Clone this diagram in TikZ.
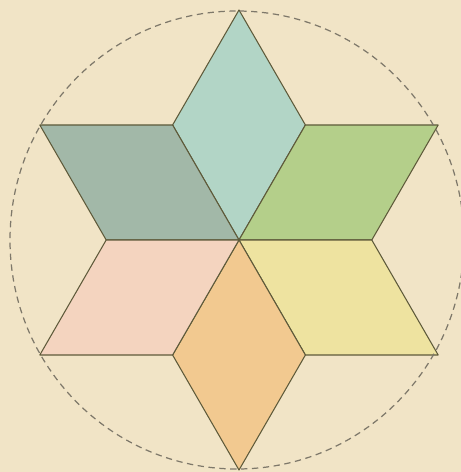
\documentclass[tikz,border=0pt]{standalone}
\usepackage{tikz}

\definecolor{paper}{HTML}{F1E4C6}
\definecolor{edge}{HTML}{5E5A3A}
\definecolor{ring}{HTML}{7E786A}
\definecolor{cAqua}{HTML}{B2D5C6}
\definecolor{cSlate}{HTML}{A2B8A8}
\definecolor{cGreen}{HTML}{B4CF8A}
\definecolor{cYellow}{HTML}{EEE3A0}
\definecolor{cOrange}{HTML}{F2C990}
\definecolor{cPink}{HTML}{F4D4BF}

\begin{document}
\begin{tikzpicture}[rhomb/.style={draw=edge, line width=0.6pt, line join=round}]
	\fill[paper] (-4.78,-4.64) rectangle (4.44,4.8);
	\useasboundingbox (-4.78,-4.64) rectangle (4.44,4.8);
	\coordinate (O) at (0,0);
	% six rhombi of the star, tip angle / colour
	\foreach \a/\c in {90/cAqua, 150/cSlate, 30/cGreen, 330/cYellow, 270/cOrange, 210/cPink} {
		\filldraw[rhomb, fill=\c] (O) -- ({\a-30}:2.656) -- (\a:4.6) -- ({\a+30}:2.656) -- cycle;
	}
	% dashed circle through the tips
	\draw[ring, line width=0.7pt, dash pattern=on 3.6pt off 2.6pt] (-0.04,0) ellipse (4.54 and 4.58);
\end{tikzpicture}
\end{document}
